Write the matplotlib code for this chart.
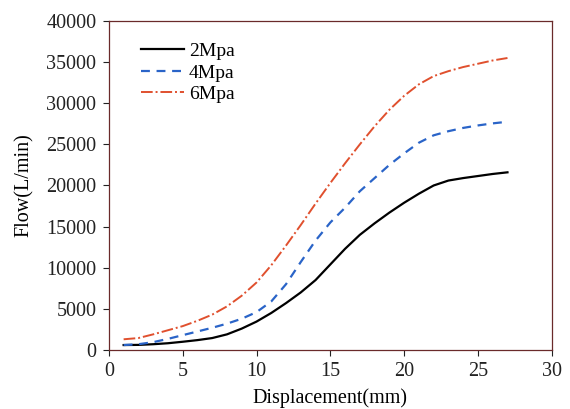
import matplotlib
matplotlib.use("Agg")
import matplotlib.pyplot as plt

plt.rcParams['font.family'] = ['Liberation Serif', 'DejaVu Serif']

displacement = [1, 2, 3, 4, 5, 6, 7, 8, 9, 10, 11, 12, 13, 14, 15, 16, 17, 18, 19, 20, 21, 22, 23, 24, 25, 26, 27]
flow_2mpa = [600, 620, 700, 820, 1000, 1200, 1450, 1900, 2600, 3450, 4500, 5700, 7000, 8500, 10400, 12300, 14000, 15400, 16700, 17900, 19000, 20000, 20600, 20900, 21150, 21400, 21600]
flow_4mpa = [600, 700, 950, 1350, 1800, 2250, 2700, 3200, 3800, 4600, 5900, 8000, 10700, 13300, 15500, 17300, 19300, 20900, 22500, 23900, 25200, 26100, 26600, 27000, 27300, 27550, 27750]
flow_6mpa = [1300, 1450, 1900, 2400, 2900, 3550, 4300, 5300, 6600, 8200, 10300, 12700, 15200, 17800, 20300, 22700, 25000, 27200, 29200, 30900, 32300, 33300, 33900, 34400, 34800, 35200, 35500]
labels = ['2Mpa', '4Mpa', '6Mpa']
xticks = [0, 5, 10, 15, 20, 25, 30]
yticks = [0, 5000, 10000, 15000, 20000, 25000, 30000, 35000, 40000]

fig = plt.figure(figsize=(5.70, 4.09), dpi=100)
ax = fig.add_axes([0.191, 0.1443, 0.777, 0.8044])

ax.plot(displacement, flow_2mpa, color='black', lw=1.6, label=labels[0])
ax.plot(displacement, flow_4mpa, color='#2a64c8', lw=1.6, ls=(0, (4, 3)), label=labels[1])
ax.plot(displacement, flow_6mpa, color='#e0502e', lw=1.4, ls=(0, (6, 1.5, 1, 1.5)), label=labels[2])

ax.set_xlim(0, 30)
ax.set_ylim(0, 40000)
ax.set_xticks(xticks)
ax.set_yticks(yticks)
ax.tick_params(axis='both', direction='out', length=4, width=0.8, labelsize=14.5,
               top=False, right=False, colors='#222222')
ax.tick_params(axis='y', pad=5)
ax.tick_params(axis='x', pad=5)
for s in ax.spines.values():
    s.set_color('#6a2a2a')
    s.set_linewidth(0.9)

ax.set_xlabel('Displacement(mm)', fontsize=14.5, labelpad=5)
ax.set_ylabel('Flow(L/min)', fontsize=14.5, labelpad=9)

leg = ax.legend(loc='upper left', frameon=False, fontsize=14, handlelength=2.2,
                handletextpad=0.25, labelspacing=0.2, bbox_to_anchor=(0.055, 0.958),
                borderaxespad=0.0)

fig.savefig('out.png', dpi=100)
